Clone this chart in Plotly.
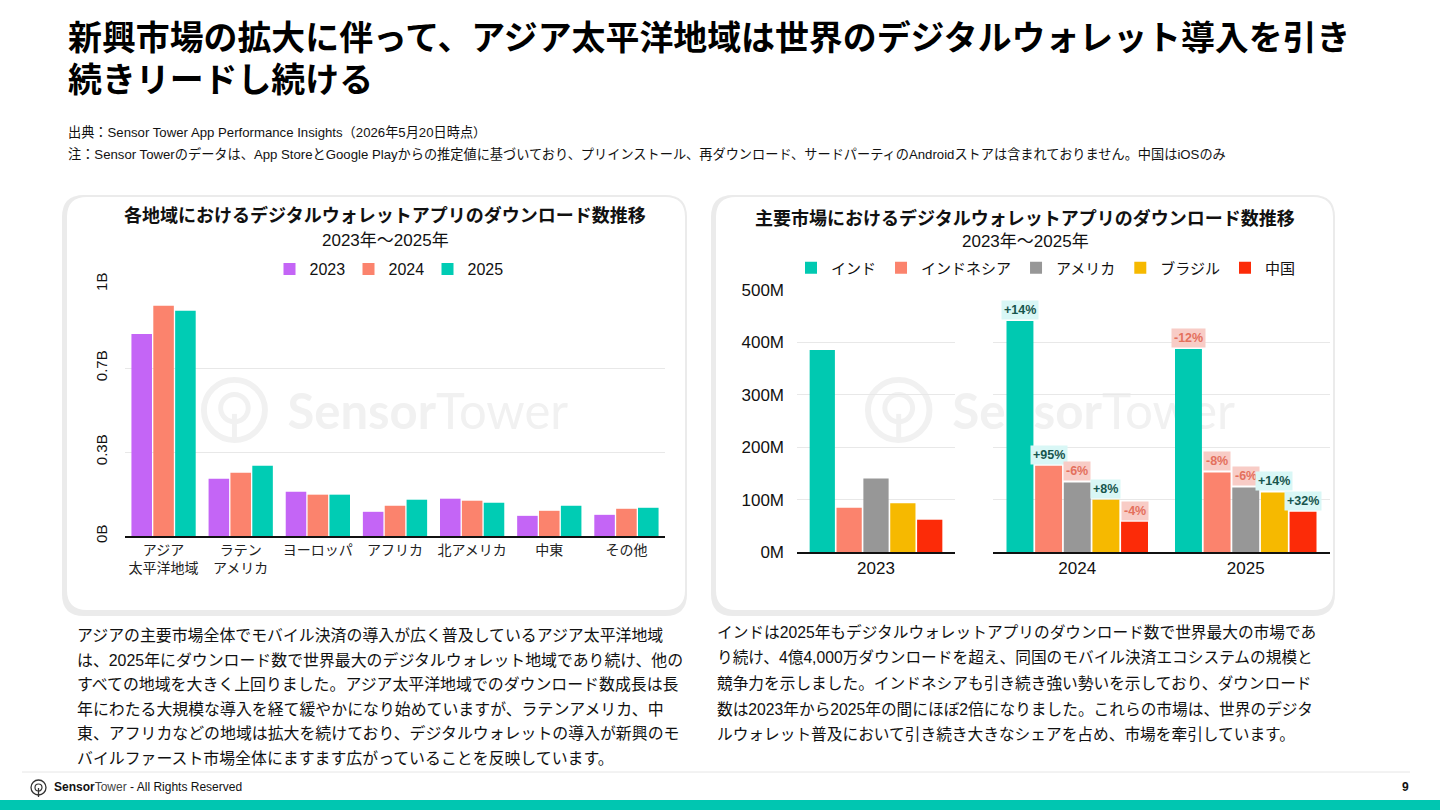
import base64
import plotly.graph_objects as go

W, H = 1440, 810
FONT = "Liberation Sans, Noto Sans CJK JP, sans-serif"

# ---------------- Data ----------------
# Left chart: downloads by region (billions)
regions = ["アジア<br>太平洋地域", "ラテン<br>アメリカ", "ヨーロッパ", "アフリカ", "北アメリカ", "中東", "その他"]
left_years = ["2023", "2024", "2025"]
dl_2023 = [0.802, 0.227, 0.176, 0.096, 0.148, 0.080, 0.084]
dl_2024 = [0.914, 0.251, 0.164, 0.120, 0.140, 0.100, 0.108]
dl_2025 = [0.894, 0.279, 0.164, 0.144, 0.132, 0.120, 0.112]
left_colors = ["#c465f6", "#fb836d", "#00ccb4"]
left_tickvals = [0, 1 / 3, 2 / 3, 1]
left_ticktext = ["0B", "0.3B", "0.7B", "1B"]

# Right chart: downloads by market (millions)
markets = ["インド", "インドネシア", "アメリカ", "ブラジル", "中国"]
market_colors = ["#00c9b1", "#fb836d", "#979797", "#f6b900", "#fc2b08"]
right_years = ["2023", "2024", "2025"]
india = [385.6, 440.9, 387.5]
indonesia = [84.5, 164.5, 151.8]
usa = [140.5, 132.8, 123.3]
brazil = [92.8, 99.7, 113.7]
china = [61.6, 57.8, 76.9]
growth_2024 = ["+14%", "+95%", "-6%", "+8%", "-4%"]
growth_2025 = ["-12%", "-8%", "-6%", "+14%", "+32%"]
right_tickvals = [0, 100, 200, 300, 400, 500]
right_ticktext = ["0M", "100M", "200M", "300M", "400M", "500M"]

# ---------------- Texts ----------------
title_lines = ["新興市場の拡大に伴って、アジア太平洋地域は世界のデジタルウォレット導入を引き",
               "続きリードし続ける"]
source_line = "出典：Sensor Tower App Performance Insights（2026年5月20日時点）"
note_line = ("注：Sensor Towerのデータは、App StoreとGoogle Playからの推定値に基づいており、プリインストール、"
             "再ダウンロード、サードパーティのAndroidストアは含まれておりません。中国はiOSのみ")
left_title = "各地域におけるデジタルウォレットアプリのダウンロード数推移"
right_title = "主要市場におけるデジタルウォレットアプリのダウンロード数推移"
subtitle = "2023年～2025年"
left_para = [
    "アジアの主要市場全体でモバイル決済の導入が広く普及しているアジア太平洋地域",
    "は、2025年にダウンロード数で世界最大のデジタルウォレット地域であり続け、他の",
    "すべての地域を大きく上回りました。アジア太平洋地域でのダウンロード数成長は長",
    "年にわたる大規模な導入を経て緩やかになり始めていますが、ラテンアメリカ、中",
    "東、アフリカなどの地域は拡大を続けており、デジタルウォレットの導入が新興のモ",
    "バイルファースト市場全体にますます広がっていることを反映しています。",
]
right_para = [
    "インドは2025年もデジタルウォレットアプリのダウンロード数で世界最大の市場であ",
    "り続け、4億4,000万ダウンロードを超え、同国のモバイル決済エコシステムの規模と",
    "競争力を示しました。インドネシアも引き続き強い勢いを示しており、ダウンロード",
    "数は2023年から2025年の間にほぼ2倍になりました。これらの市場は、世界のデジタ",
    "ルウォレット普及において引き続き大きなシェアを占め、市場を牽引しています。",
]


def px(x):
    return x / W


def py(y):
    return 1 - y / H


# layout geometry (pixels)
L_X0, L_X1, L_YT, L_YB = 125, 665, 284, 536
R1_X0, R1_X1 = 797, 955
R2_X0, R2_X1 = 993, 1330
R_YT, R_YB = 290, 552
BARGAP = 0.15
BARGROUPGAP = 0.06

fig = go.Figure()

# ---------------- Left chart traces ----------------
for yr, vals, col in zip(left_years, [dl_2023, dl_2024, dl_2025], left_colors):
    fig.add_trace(go.Bar(x=regions, y=vals, name=yr, marker=dict(color=col, line_width=0),
                         xaxis="x", yaxis="y", legend="legend", hoverinfo="skip"))

# ---------------- Right chart traces ----------------
series = [india, indonesia, usa, brazil, china]
for name, vals, col in zip(markets, series, market_colors):
    fig.add_trace(go.Bar(x=right_years[:1], y=vals[:1], name=name, marker=dict(color=col, line_width=0),
                         xaxis="x2", yaxis="y2", legend="legend2", hoverinfo="skip"))
for name, vals, col in zip(markets, series, market_colors):
    fig.add_trace(go.Bar(x=right_years[1:], y=vals[1:], name=name, marker=dict(color=col, line_width=0),
                         xaxis="x3", yaxis="y3", legend="legend2", showlegend=False, hoverinfo="skip"))

# ---------------- Shapes (cards, footer) ----------------
shapes = []


def rounded(x0, y0, x1, y1, r, fill):
    path = (f"M {px(x0 + r)},{py(y0)} L {px(x1 - r)},{py(y0)} Q {px(x1)},{py(y0)} {px(x1)},{py(y0 + r)} "
            f"L {px(x1)},{py(y1 - r)} Q {px(x1)},{py(y1)} {px(x1 - r)},{py(y1)} "
            f"L {px(x0 + r)},{py(y1)} Q {px(x0)},{py(y1)} {px(x0)},{py(y1 - r)} "
            f"L {px(x0)},{py(y0 + r)} Q {px(x0)},{py(y0)} {px(x0 + r)},{py(y0)} Z")
    return dict(type="path", path=path, xref="paper", yref="paper", fillcolor=fill,
                line=dict(width=0), layer="below")


for (cx0, cx1) in [(62, 687), (711, 1335)]:
    shapes.append(rounded(cx0, 195, cx1, 616, 22, "#ebebeb"))
    shapes.append(rounded(cx0 + 5, 197, cx1 - 2, 610, 20, "#ffffff"))

# footer line and teal bar
shapes.append(dict(type="line", xref="paper", yref="paper", x0=px(22), x1=px(1410), y0=py(772), y1=py(772),
                   line=dict(color="#e6e6e6", width=1)))
shapes.append(dict(type="rect", xref="paper", yref="paper", x0=0, x1=1, y0=0, y1=py(800),
                   fillcolor="#00c6b1", line=dict(width=0)))
# footer logo icon
shapes.append(dict(type="circle", xref="paper", yref="paper", x0=px(31), x1=px(46), y0=py(795), y1=py(780),
                   line=dict(color="#333", width=1.3)))
shapes.append(dict(type="circle", xref="paper", yref="paper", x0=px(35), x1=px(42), y0=py(791), y1=py(784),
                   line=dict(color="#333", width=1.2)))
shapes.append(dict(type="line", xref="paper", yref="paper", x0=px(38.5), x1=px(38.5), y0=py(788), y1=py(797),
                   line=dict(color="#333", width=1.3)))

# ---------------- Annotations ----------------
ann = []


def text(x, y, s, size, color="#111", bold=False, xanchor="left", yanchor="middle"):
    ann.append(dict(x=px(x), y=py(y), xref="paper", yref="paper", text=(f"<b>{s}</b>" if bold else s),
                    showarrow=False, xanchor=xanchor, yanchor=yanchor,
                    font=dict(size=size, color=color, family=FONT)))


text(66, 38, title_lines[0], 33.9, "#000", True)
text(66, 80, title_lines[1], 33.9, "#000", True)
text(66, 132, source_line, 13.2, "#111")
text(66, 154, note_line, 13.2, "#111")

text(385, 215, left_title, 18, "#111", True, "center")
text(385, 240, subtitle, 17, "#111", False, "center")
text(1025, 218, right_title, 18, "#111", True, "center")
text(1025, 242, subtitle, 17, "#111", False, "center")

for i, line in enumerate(left_para):
    text(75, 635 + i * 24.6, line, 15.9, "#111")
for i, line in enumerate(right_para):
    text(715, 632 + i * 25.5, line, 15.7, "#111")

text(52, 787, "<b>Sensor</b><span style='color:#444'>Tower</span> - All Rights Reserved", 12, "#111")
text(1411, 787, "9", 12, "#111", True, "right")

# growth labels on 2024/2025 bars (x given as category index on xaxis3)
cat_w = (R2_X1 - R2_X0) / len(right_years[1:])
group_w = cat_w * (1 - BARGAP)
n = len(markets)
for yi, labels in enumerate([growth_2024, growth_2025]):
    for mi, lab in enumerate(labels):
        val = series[mi][1 + yi]
        pos = lab.startswith("+")
        shift = group_w * ((mi + 0.5) / n - 0.5)
        ann.append(dict(x=yi, y=val, xref="x3", yref="y3", text=f"<b>{lab}</b>", showarrow=False,
                        xanchor="center", yanchor="bottom", xshift=shift, yshift=1,
                        bgcolor="#d9f7f6" if pos else "#f8ccc6", borderpad=2,
                        font=dict(size=12.5, color="#17554d" if pos else "#e4705d", family=FONT)))

# ---------------- Watermarks ----------------
wm_svg = ('<svg xmlns="http://www.w3.org/2000/svg" width="380" height="72" viewBox="0 0 380 72">'
          '<circle cx="36" cy="36" r="31" fill="none" stroke="#f1f1f1" stroke-width="6"/>'
          '<circle cx="36" cy="34" r="14" fill="none" stroke="#f1f1f1" stroke-width="5"/>'
          '<line x1="36" y1="40" x2="36" y2="68" stroke="#f1f1f1" stroke-width="5"/>'
          '<text x="90" y="56" textLength="285" lengthAdjust="spacingAndGlyphs" font-family="Lato, DejaVu Sans" '
          'font-size="52" fill="#f1f1f1"><tspan font-weight="bold">Sensor</tspan><tspan font-weight="normal">Tower</tspan></text>'
          '</svg>')
wm_src = "data:image/svg+xml;base64," + base64.b64encode(wm_svg.encode()).decode()
images = [
    dict(source=wm_src, xref="x domain", yref="y domain",
         x=(199 - L_X0) / (L_X1 - L_X0), y=(L_YB - 375) / (L_YB - L_YT),
         sizex=374 / (L_X1 - L_X0), sizey=70 / (L_YB - L_YT), sizing="stretch",
         xanchor="left", yanchor="top", layer="below"),
    dict(source=wm_src, xref="x2 domain", yref="y2 domain",
         x=(863 - R1_X0) / (R1_X1 - R1_X0), y=(R_YB - 375) / (R_YB - R_YT),
         sizex=377 / (R1_X1 - R1_X0), sizey=70 / (R_YB - R_YT), sizing="stretch",
         xanchor="left", yanchor="top", layer="below"),
]

# ---------------- Layout ----------------
axis_common = dict(type="category", showgrid=False, zeroline=False, ticks="", fixedrange=True, automargin=False)
yright = dict(range=[0, 500], tickvals=right_tickvals, ticktext=right_ticktext, showgrid=True,
              gridcolor="#e8e8e8", gridwidth=1, zeroline=False, ticks="", fixedrange=True,
              automargin=False, showline=False, domain=[py(R_YB), py(R_YT)])
fig.update_layout(
    template="none",
    width=W, height=H, margin=dict(l=0, r=0, t=0, b=0, pad=0, autoexpand=False),
    paper_bgcolor="#ffffff", plot_bgcolor="rgba(0,0,0,0)",
    font=dict(family=FONT, color="#111"),
    barmode="group", bargap=BARGAP, bargroupgap=BARGROUPGAP,
    shapes=shapes, annotations=ann, images=images,
    xaxis=dict(domain=[px(L_X0), px(L_X1)], anchor="y", showline=True, linecolor="#111", linewidth=1.5,
               tickfont=dict(size=14, color="#222"), **axis_common),
    yaxis=dict(domain=[py(L_YB), py(L_YT)], anchor="x", range=[0, 1], tickvals=left_tickvals,
               ticktext=left_ticktext, tickangle=-90, showgrid=True, gridcolor="#e8e8e8", gridwidth=1,
               zeroline=False, ticks="", tickfont=dict(size=15, color="#111"), ticklabelstandoff=14,
               fixedrange=True, automargin=False, showline=False),
    xaxis2=dict(domain=[px(R1_X0), px(R1_X1)], anchor="y2", showline=True, linecolor="#111", linewidth=1.5,
                tickfont=dict(size=17, color="#111"), range=[-0.5, len(right_years[:1]) - 0.5], **axis_common),
    xaxis3=dict(domain=[px(R2_X0), px(R2_X1)], anchor="y3", showline=True, linecolor="#111", linewidth=1.5,
                tickfont=dict(size=17, color="#111"), range=[-0.5, len(right_years[1:]) - 0.5], **axis_common),
    yaxis2=dict(anchor="x2", tickfont=dict(size=17, color="#111"), ticklabelstandoff=12, **yright),
    yaxis3=dict(anchor="x3", matches="y2", showticklabels=False, **yright),
    legend=dict(orientation="h", x=px(388), xanchor="center", y=py(269), yanchor="middle",
                font=dict(size=16, color="#111"), bgcolor="rgba(0,0,0,0)", itemclick=False,
                itemdoubleclick=False, entrywidth=34, entrywidthmode="pixels"),
    legend2=dict(orientation="h", x=px(1046), xanchor="center", y=py(268), yanchor="middle",
                 font=dict(size=15, color="#111"), bgcolor="rgba(0,0,0,0)", itemclick=False,
                 itemdoubleclick=False),
    showlegend=True,
)

fig.write_html("out.html", config={"displayModeBar": False})
